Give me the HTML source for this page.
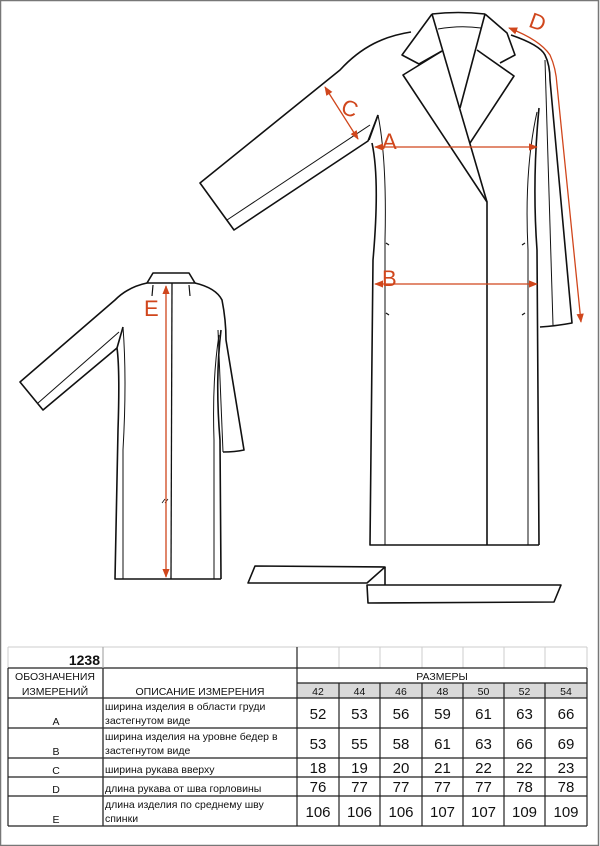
<!DOCTYPE html>
<html><head><meta charset="utf-8"><style>
html,body{margin:0;padding:0;background:#fff;}
svg{display:block;}
text{font-family:"Liberation Sans",sans-serif;}
</style></head><body>
<svg width="600" height="846" viewBox="0 0 600 846" xmlns="http://www.w3.org/2000/svg">
<rect x="0.5" y="0.5" width="598" height="845" fill="#fff" stroke="#777" stroke-width="1.5"/>
<defs>
<marker id="ar" viewBox="0 0 10 10" refX="9" refY="5" markerWidth="7" markerHeight="7" orient="auto-start-reverse"><path d="M0,1 L10,5 L0,9 Z" fill="#d0461c"/></marker>
</defs>
<g fill="none" stroke="#111" stroke-width="1.6" stroke-linejoin="round">
<path d="M432,14 Q458,11 485,14"/>
<path d="M438,29 Q460,25 481,28" stroke-width="1"/>
<path d="M432,14 L402,55 L419,64 L442,51"/>
<path d="M442,51 L403,75 L487,202 L487,545"/>
<path d="M432,14 L487,202"/>
<path d="M485,14 L460,108"/>
<path d="M477,50 L514,76 L470,143"/>
<path d="M485,14 L507,33 L515,55 L500,63"/>
<path d="M511,35 Q540,45 545,55 Q550,65 550,80 L572,323 Q556,326 540,327"/>
<path d="M545,60 L553,325" stroke-width="1"/>
<path d="M539,108 Q532,180 537,250 L539,545"/>
<path d="M537,112 Q524,170 528,250 L528,545" stroke-width="1"/>
<path d="M411,32 C385,36 362,46 340,70 L200,183 L234,230 L368,141 L378,115"/>
<path d="M227,220 L370,125" stroke-width="1"/>
<path d="M378,115 L369,140"/>
<path d="M372,143 Q380,180 373,260 L370,545 L539,545"/>
<path d="M378,115 Q387,160 385,240 L385,545" stroke-width="1"/>
<path d="M386,243 l3,2 M386,313 l3,2 M525,243 l-3,2 M525,313 l-3,2" stroke-width="1.2"/>
<path d="M153,273 L189,273 L195,283 L147,283 Z"/>
<path d="M153,285 L152,296 M189,285 L190,296" stroke-width="1.2"/>
<path d="M147,283 Q128,287 115,300 L20,382 L43,410 L117,348"/>
<path d="M38,403 L119,332" stroke-width="1"/>
<path d="M123,327 L117,348 Q120,370 118,430 L115,579 L221,579"/>
<path d="M123,327 Q127,380 123,450 L123,579" stroke-width="1"/>
<path d="M195,283 Q216,288 222,300 Q226,320 226,340 L244,450 Q235,452 223,452"/>
<path d="M218,330 L223,452" stroke-width="1"/>
<path d="M221,330 Q215,380 220,440 L221,579"/>
<path d="M219,335 Q212,380 214,440 L214,579" stroke-width="1"/>
<path d="M172,283 L171,579" stroke-width="1.3"/>
<path d="M162,503 l3,-4 M165,503 l3,-4" stroke-width="0.8"/>
<path d="M255,566 L385,567 L367,583 L248,583 Z"/>
<path d="M385,567 L385,585"/>
<path d="M367,585 L561,585 L554,602 L368,603 Z"/>
</g>
<g stroke="#d0461c" stroke-width="1.3" fill="none">
<line x1="375" y1="147" x2="537" y2="147" marker-start="url(#ar)" marker-end="url(#ar)"/>
<line x1="375" y1="284" x2="537" y2="284" marker-start="url(#ar)" marker-end="url(#ar)"/>
<line x1="325" y1="87" x2="358" y2="139" marker-start="url(#ar)" marker-end="url(#ar)"/>
<path d="M509,28 Q540,40 550,55 Q556,68 557,85 L581,322" marker-start="url(#ar)" marker-end="url(#ar)"/>
<line x1="166" y1="286" x2="166" y2="577" marker-start="url(#ar)" marker-end="url(#ar)"/>
</g>
<g fill="#d0461c" font-size="22">
<text x="382" y="149">A</text>
<text x="382" y="286">B</text>
<text x="530" y="31" transform="rotate(20 542 22)">D</text>
<text x="144" y="316">E</text>
<text x="342" y="116" transform="rotate(20 350 108)">C</text>
</g>
<rect x="297" y="683" width="290" height="15" fill="#d9d9d9"/>
<g stroke="#ccc" stroke-width="1">
<line x1="339" y1="647" x2="339" y2="668"/><line x1="380" y1="647" x2="380" y2="668"/><line x1="422" y1="647" x2="422" y2="668"/><line x1="463" y1="647" x2="463" y2="668"/><line x1="504" y1="647" x2="504" y2="668"/><line x1="545" y1="647" x2="545" y2="668"/>
<line x1="297" y1="647" x2="587" y2="647"/><line x1="587" y1="647" x2="587" y2="668"/>
<line x1="8" y1="647" x2="297" y2="647"/><line x1="8" y1="647" x2="8" y2="668"/>
</g>
<g stroke="#222" stroke-width="1.2" fill="none">
<line x1="8" y1="668" x2="587" y2="668"/>
<line x1="297" y1="683" x2="587" y2="683"/>
<line x1="8" y1="698" x2="587" y2="698"/>
<line x1="8" y1="728" x2="587" y2="728"/>
<line x1="8" y1="758" x2="587" y2="758"/>
<line x1="8" y1="777" x2="587" y2="777"/>
<line x1="8" y1="796" x2="587" y2="796"/>
<line x1="8" y1="826" x2="587" y2="826"/>
<line x1="8" y1="668" x2="8" y2="826"/>
<line x1="587" y1="668" x2="587" y2="826"/>
<line x1="103" y1="647" x2="103" y2="826" stroke="#aaa"/>
<line x1="103" y1="668" x2="103" y2="826"/>
<line x1="297" y1="647" x2="297" y2="826"/>
<line x1="339" y1="683" x2="339" y2="826"/><line x1="380" y1="683" x2="380" y2="826"/><line x1="422" y1="683" x2="422" y2="826"/><line x1="463" y1="683" x2="463" y2="826"/><line x1="504" y1="683" x2="504" y2="826"/><line x1="545" y1="683" x2="545" y2="826"/>
</g>
<g font-size="10.5" fill="#111">
<text x="100" y="665" font-size="14" font-weight="bold" text-anchor="end">1238</text>
<text x="55" y="680" text-anchor="middle">ОБОЗНАЧЕНИЯ</text>
<text x="55" y="695" text-anchor="middle">ИЗМЕРЕНИЙ</text>
<text x="200" y="695" text-anchor="middle">ОПИСАНИЕ ИЗМЕРЕНИЯ</text>
<text x="442" y="680" text-anchor="middle">РАЗМЕРЫ</text>
<g text-anchor="middle"><text x="318" y="695">42</text><text x="359.5" y="695">44</text><text x="401" y="695">46</text><text x="442.5" y="695">48</text><text x="483.5" y="695">50</text><text x="524.5" y="695">52</text><text x="566" y="695">54</text></g>
<g text-anchor="middle"><text x="56" y="725">A</text><text x="56" y="755">B</text><text x="56" y="774">C</text><text x="56" y="793">D</text><text x="56" y="823">E</text></g>
<text x="105" y="710">ширина изделия в области груди</text>
<text x="105" y="724">застегнутом виде</text>
<text x="105" y="740">ширина изделия  на уровне бедер в</text>
<text x="105" y="754">застегнутом виде</text>
<text x="105" y="773">ширина рукава вверху</text>
<text x="105" y="792">длина рукава от шва горловины</text>
<text x="105" y="808">длина изделия по среднему шву</text>
<text x="105" y="822">спинки</text>
</g>
<g font-size="15" fill="#111" text-anchor="middle">
<g transform="translate(0,719)"><text x="318">52</text><text x="359.5">53</text><text x="401">56</text><text x="442.5">59</text><text x="483.5">61</text><text x="524.5">63</text><text x="566">66</text></g>
<g transform="translate(0,749)"><text x="318">53</text><text x="359.5">55</text><text x="401">58</text><text x="442.5">61</text><text x="483.5">63</text><text x="524.5">66</text><text x="566">69</text></g>
<g transform="translate(0,773)"><text x="318">18</text><text x="359.5">19</text><text x="401">20</text><text x="442.5">21</text><text x="483.5">22</text><text x="524.5">22</text><text x="566">23</text></g>
<g transform="translate(0,792)"><text x="318">76</text><text x="359.5">77</text><text x="401">77</text><text x="442.5">77</text><text x="483.5">77</text><text x="524.5">78</text><text x="566">78</text></g>
<g transform="translate(0,817)"><text x="318">106</text><text x="359.5">106</text><text x="401">106</text><text x="442.5">107</text><text x="483.5">107</text><text x="524.5">109</text><text x="566">109</text></g>
</g>
</svg>
</body></html>
